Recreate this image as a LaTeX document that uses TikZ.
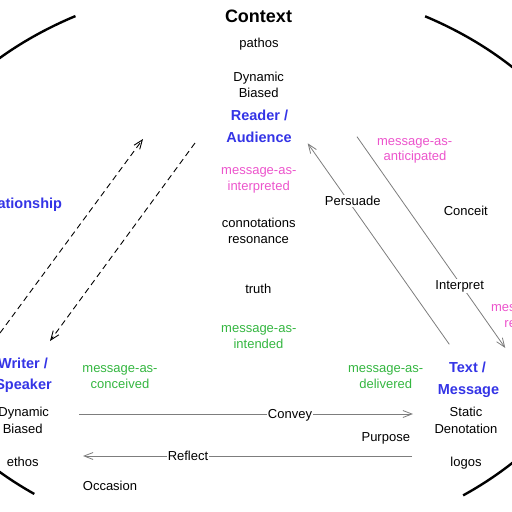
\documentclass[tikz,border=0pt]{standalone}
\usepackage{fontspec}
\setmainfont{Liberation Sans}
\usetikzlibrary{arrows.meta}
\definecolor{cblue}{RGB}{52,52,230}
\definecolor{cpink}{RGB}{236,84,204}
\definecolor{cgreen}{RGB}{52,182,64}
\definecolor{cgray}{RGB}{125,125,125}
\begin{document}
\begin{tikzpicture}[x=1pt,y=-1pt,
  txt/.style={anchor=base,inner sep=0pt,font=\fontsize{13}{15}\selectfont},
  btxt/.style={anchor=base,inner sep=0pt,font=\fontsize{14.5}{17}\selectfont\bfseries,text=cblue},
  ptxt/.style={txt,text=cpink},
  gtxt/.style={txt,text=cgreen},
  onlabel/.style={txt,fill=white,inner sep=1pt},
  garrow/.style={draw=cgray,line width=0.8pt,-{Straight Barb[length=9pt,width=7pt]}},
  darrow/.style={draw=black,line width=0.9pt,dash pattern=on 6pt off 4pt,-{Straight Barb[length=9pt,width=7pt]}},
  arcline/.style={draw=black,line width=2.4pt}]
\clip (0,0) rectangle (512,512);

% context ellipse arcs
\draw[arcline] plot[domain=118.4:140,samples=50] ({250+367*cos(\x)},{265-283*sin(\x)});
\draw[arcline] plot[domain=38:61.5,samples=50] ({250+367*cos(\x)},{265-283*sin(\x)});
\draw[arcline] plot[domain=220:234,samples=50] ({250+367*cos(\x)},{265-283*sin(\x)});
\draw[arcline] plot[domain=-54.5:-38,samples=50] ({250+367*cos(\x)},{265-283*sin(\x)});

% top / centre texts
\node[txt,font=\fontsize{18}{20}\selectfont\bfseries] (context) at (258.5,22) {Context};
\node[txt] (pathos) at (259,47.7) {pathos};
\node[txt] (dyn1) at (258.7,81.5) {Dynamic};
\node[txt] (bia1) at (258.7,97.7) {Biased};
\node[btxt] (reader) at (259.5,120.7) {Reader /};
\node[btxt] (audience) at (259,142.7) {Audience};
\node[ptxt] (mi1) at (258.8,174) {message-as-};
\node[ptxt] (mi2) at (258.7,190.7) {interpreted};
\node[txt] (conn) at (258.7,227.3) {connotations};
\node[txt] (reso) at (258.5,243.3) {resonance};
\node[txt] (truth) at (258.3,293.3) {truth};
\node[gtxt] (mt1) at (258.8,332) {message-as-};
\node[gtxt] (mt2) at (258.5,348.7) {intended};

% left texts
\node[btxt] (relation) at (18.5,208.5) {Relationship};
\node[btxt] (writer) at (23,368.3) {Writer /};
\node[btxt] (speaker) at (23.5,389) {Speaker};
\node[txt] (dyn2) at (23.7,416.7) {Dynamic};
\node[txt] (bia2) at (22.7,433.3) {Biased};
\node[txt] (ethos) at (22.8,466.7) {ethos};
\node[gtxt] (mc1) at (120,372.7) {message-as-};
\node[gtxt] (mc2) at (120,388.7) {conceived};
\node[txt] (occasion) at (110,490.3) {Occasion};

% right texts
\node[ptxt] (ma1) at (414.7,145) {message-as-};
\node[ptxt] (ma2) at (415,160.7) {anticipated};
\node[txt] (conceit) at (465.8,215) {Conceit};
\node[ptxt] (mr1) at (528.6,311) {message-as-};
\node[ptxt] (mr2) at (529,327.7) {received};
\node[gtxt] (md1) at (385.7,372.7) {message-as-};
\node[gtxt] (md2) at (385.7,388.3) {delivered};
\node[btxt] (textn) at (467.5,372) {Text /};
\node[btxt] (message) at (468.5,394.3) {Message};
\node[txt] (static) at (466,416.7) {Static};
\node[txt] (denot) at (466,433.3) {Denotation};
\node[txt] (purpose) at (385.8,441) {Purpose};
\node[txt] (logos) at (466,466.7) {logos};

% connector end points
\coordinate (cvS) at (79,414);
\coordinate (cvE) at (413,414);
\coordinate (rfS) at (412,456);
\coordinate (rfE) at (83,456);
\coordinate (psS) at (449.3,344.3);
\coordinate (psE) at (307.7,143.3);
\coordinate (ipS) at (357,136.7);
\coordinate (ipE) at (505.3,348);
\coordinate (d1S) at (0,333);
\coordinate (d1E) at (143,139);
\coordinate (d2S) at (195,143);
\coordinate (d2E) at (50,341);

\draw[garrow] (cvS) -- (cvE);
\draw[garrow] (rfS) -- (rfE);
\draw[garrow] (psS) -- (psE);
\draw[garrow] (ipS) -- (ipE);
\draw[darrow] (d1S) -- (d1E);
\draw[darrow] (d2S) -- (d2E);

\node[onlabel] (convey) at (290,418.7) {Convey};
\node[onlabel] (reflect) at (188,460.3) {Reflect};
\node[onlabel] (persuade) at (352.7,205.7) {Persuade};
\node[onlabel] (interpret) at (459.7,289.3) {Interpret};
\end{tikzpicture}
\end{document}
